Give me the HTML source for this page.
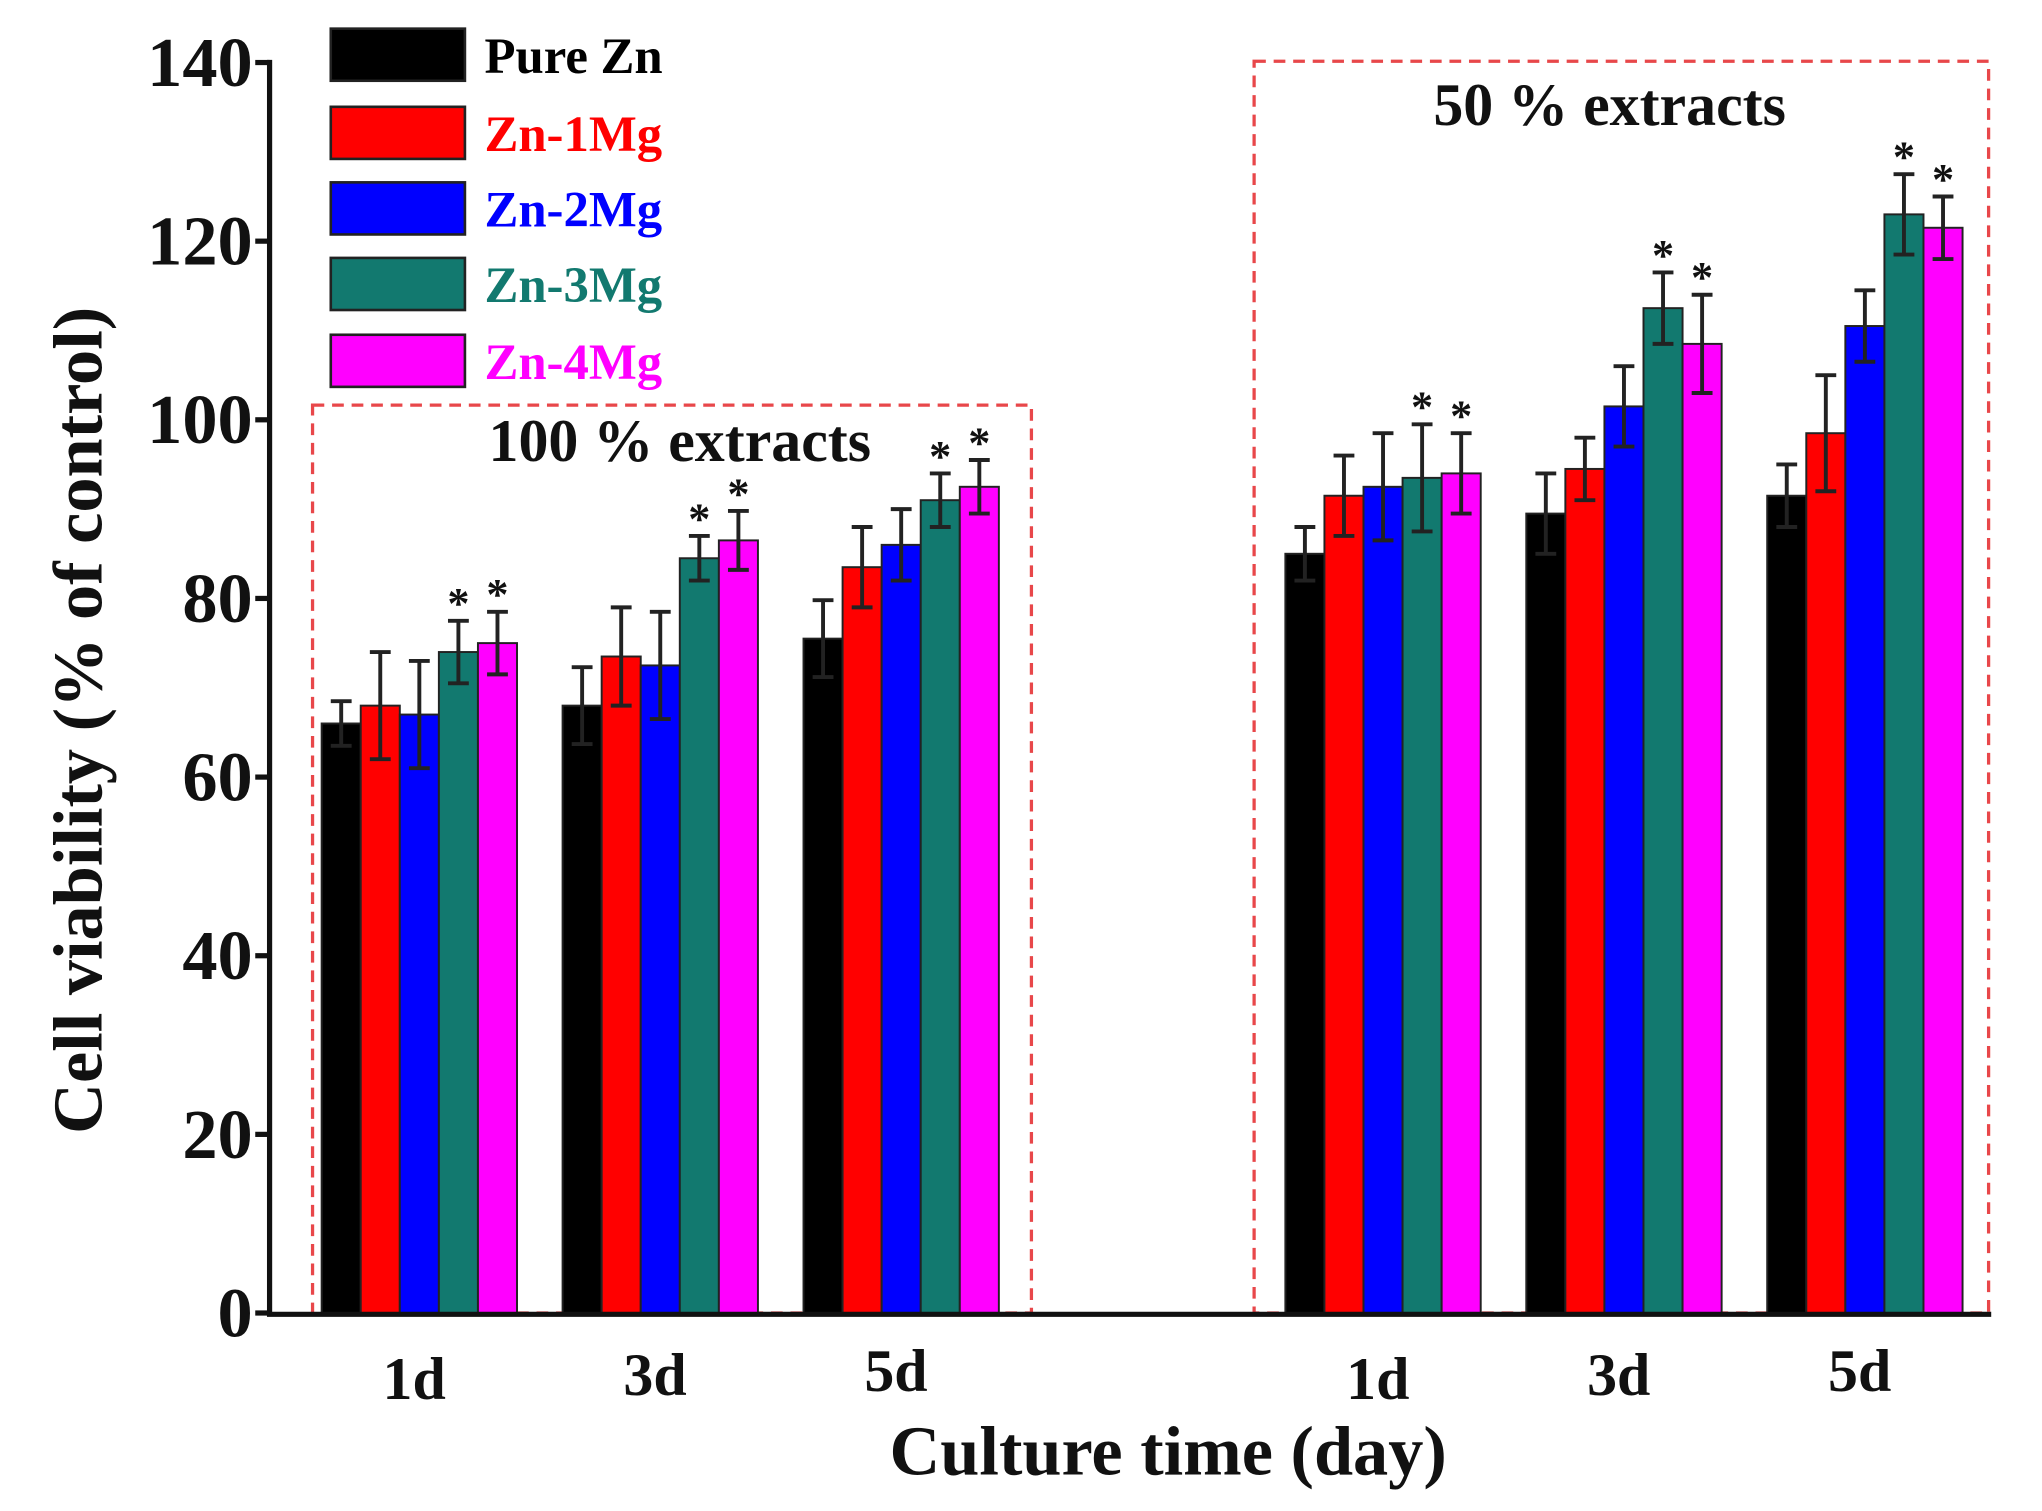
<!DOCTYPE html>
<html><head><meta charset="utf-8"><style>
html,body{margin:0;padding:0;background:#fff;}
svg{display:block;}
text{font-family:"Liberation Serif",serif;font-weight:bold;}
</style></head><body>
<svg id="chart" width="2042" height="1511" viewBox="0 0 1568 1160" preserveAspectRatio="none" xmlns="http://www.w3.org/2000/svg">
<g id="boxes"></g>
<g id="bars"></g>
<g id="axes"></g>
<g id="legend"></g>
</svg>
<script>
const categories = ["1d","3d","5d","1d","3d","5d"];
const seriesNames = ["Pure Zn","Zn-1Mg","Zn-2Mg","Zn-3Mg","Zn-4Mg"];
const pureZn = [66, 68, 75.5, 85, 89.5, 91.5];
const zn1Mg = [68, 73.5, 83.5, 91.5, 94.5, 98.5];
const zn2Mg = [67, 72.5, 86, 92.5, 101.5, 110.5];
const zn3Mg = [74, 84.5, 91, 93.5, 112.5, 123];
const zn4Mg = [75, 86.5, 92.5, 94, 108.5, 121.5];
const errPureZn = [2.5, 4.3, 4.3, 3, 4.5, 3.5];
const errZn1Mg = [6, 5.5, 4.5, 4.5, 3.5, 6.5];
const errZn2Mg = [6, 6, 4, 6, 4.5, 4];
const errZn3Mg = [3.5, 2.5, 3, 6, 4, 4.5];
const errZn4Mg = [3.5, 3.3, 3, 4.5, 5.5, 3.5];
const starZn3Mg = [true, true, true, true, true, true];
const starZn4Mg = [true, true, true, true, true, true];
const yTicks = [0, 20, 40, 60, 80, 100, 120, 140];

const NS = "http://www.w3.org/2000/svg";
const colors = ["#000000","#ff0000","#0000ff","#12796f","#ff00ff"];
const values = [pureZn, zn1Mg, zn2Mg, zn3Mg, zn4Mg];
const errs = [errPureZn, errZn1Mg, errZn2Mg, errZn3Mg, errZn4Mg];
const stars = [null, null, null, starZn3Mg, starZn4Mg];

const Y0 = 1008, YTOP = 48, YMAX = 140;
function y(v){ return Y0 - (v / YMAX) * (Y0 - YTOP); }
const BW = 30;
function groupStart(i){ return 247 + (i % 3) * 185 + (i >= 3 ? 740 : 0); }
function barX(g, s){ return groupStart(g) + s * BW; }

function mk(tag, attrs, parent){
  const e = document.createElementNS(NS, tag);
  for (const k in attrs) e.setAttribute(k, attrs[k]);
  parent.appendChild(e);
  return e;
}

const boxes = document.getElementById('boxes');
const b1 = mk('rect', {x:240, y:311, width:552, height:697, fill:'none', stroke:'#e8474a', 'stroke-width':2.5, 'stroke-dasharray':'9 6'}, boxes);


const b2 = mk('rect', {x:963, y:47, width:564, height:961, fill:'none', stroke:'#e8474a', 'stroke-width':2.5, 'stroke-dasharray':'9 6'}, boxes);


const t1 = mk('text', {x:522, y:354, 'font-size':46, 'text-anchor':'middle', fill:'#111'}, boxes);
t1.textContent = '100 % extracts';


const t2 = mk('text', {x:1236, y:96, 'font-size':46, 'text-anchor':'middle', fill:'#111'}, boxes);
t2.textContent = '50 % extracts';



const bars = document.getElementById('bars');
for (let g = 0; g < categories.length; g++){
  for (let s = 0; s < 5; s++){
    const v = values[s][g], e = errs[s][g];
    const x0 = barX(g, s);
    const r = mk('rect', {x:x0, y:y(v), width:BW, height:Y0 - y(v), fill:colors[s], stroke:'#222', 'stroke-width':1.5}, bars);
    
    
    const cx = x0 + BW / 2;
    const eg = mk('g', {stroke:'#222', 'stroke-width':3, fill:'none'}, bars);
    
    
    mk('line', {x1:cx, x2:cx, y1:y(v - e), y2:y(v + e)}, eg);
    mk('line', {x1:cx - 8, x2:cx + 8, y1:y(v + e), y2:y(v + e)}, eg);
    mk('line', {x1:cx - 8, x2:cx + 8, y1:y(v - e), y2:y(v - e)}, eg);
    if (stars[s] && stars[s][g]){
      const st = mk('text', {x:cx, y:y(v + e) - 2, 'font-size':34, 'text-anchor':'middle', fill:'#111'}, bars);
      st.textContent = '*';
      
      
    }
  }
}

const axes = document.getElementById('axes');
const ya = mk('line', {x1:207, x2:207, y1:46, y2:1010, stroke:'#111', 'stroke-width':4}, axes);


const xa = mk('line', {x1:205, x2:1529, y1:1009, y2:1009, stroke:'#111', 'stroke-width':4}, axes);


for (const t of yTicks){
  const tk = mk('line', {x1:196, x2:207, y1:y(t), y2:y(t), stroke:'#111', 'stroke-width':4}, axes);
  
  
  const tl = mk('text', {x:194, y:y(t) + 18, 'font-size':54, 'text-anchor':'end', fill:'#111'}, axes);
  tl.textContent = t;
  
  
}
for (let g = 0; g < categories.length; g++){
  const cx = groupStart(g) + BW * 2.5;
  const cl = mk('text', {x:cx - 4, y:1074 - (g % 3) * 3, 'font-size':46, 'text-anchor':'middle', fill:'#111'}, axes);
  cl.textContent = categories[g];
  
  
}
const xt = mk('text', {x:897, y:1132, 'font-size':54, 'text-anchor':'middle', fill:'#111'}, axes);
xt.textContent = 'Culture time (day)';


const ytt = mk('text', {x:0, y:0, 'font-size':54, 'text-anchor':'middle', fill:'#111', transform:'translate(78,553) rotate(-90)'}, axes);
ytt.textContent = 'Cell viability (% of control)';



const legend = document.getElementById('legend');
const legY = [22, 82, 140, 198, 257];
for (let s = 0; s < 5; s++){
  const lg = mk('g', {}, legend);
  
  
  mk('rect', {x:254, y:legY[s], width:103, height:40, fill:colors[s], stroke:'#222', 'stroke-width':2}, lg);
  const lt = mk('text', {x:372, y:legY[s] + 34, 'font-size':39, fill:colors[s]}, lg);
  lt.textContent = seriesNames[s];
}
</script>
</body></html>
